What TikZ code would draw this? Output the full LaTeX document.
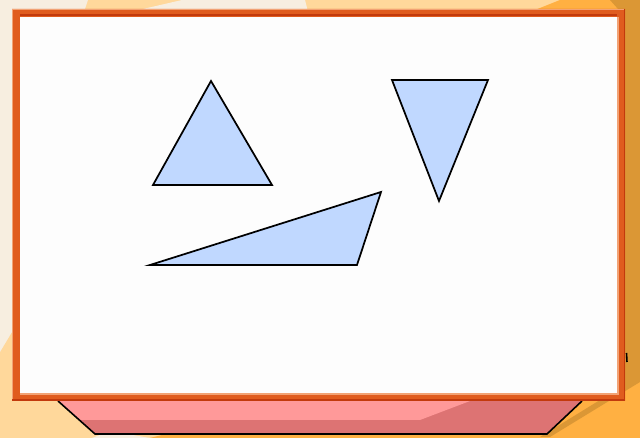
\documentclass[tikz,border=0pt]{standalone}
\definecolor{beige}{HTML}{F7EEE0}
\definecolor{lorange}{HTML}{FFD89B}
\definecolor{morange}{HTML}{FFB042}
\definecolor{dorange}{HTML}{DB9735}
\definecolor{frameC}{HTML}{E05C1E}
\definecolor{frameD}{HTML}{C23A0C}
\definecolor{frameL}{HTML}{F2A274}
\definecolor{pinkL}{HTML}{FF9999}
\definecolor{pinkD}{HTML}{DD7373}
\definecolor{triC}{HTML}{C0D8FF}
\definecolor{paper}{HTML}{FDFDFD}
\tikzset{
  tri/.style={draw=black, fill=triC, line width=1.3pt, line join=miter},
  edge/.style={draw=black, line width=1.2pt},
}
\begin{document}
\begin{tikzpicture}[x=0.75pt,y=-0.75pt]
\useasboundingbox (0,0) rectangle (640,438);
% background
\fill[lorange] (0,0) rectangle (640,438);
\fill[beige] (0,0) -- (88,0) -- (84,12) -- (12,332) -- (0,352) -- cycle;
\fill[beige] (182,0) -- (305,0) -- (308,12) -- (130,12) -- cycle;
\fill[beige] (92,438) -- (150,438) -- (110,431) -- cycle;
\fill[morange] (560,0) -- (612,0) -- (625,12) -- (530,12) -- cycle;
\fill[morange] (640,382) -- (640,438) -- (150,438) -- (300,400) -- cycle;
\fill[dorange] (610,0) -- (640,0) -- (640,382) -- (550,437) -- (540,437) -- (600,400) -- (618,9) -- cycle;
\draw[black, line width=1.2pt] (626.5,353) -- (627,362);
% pink tray
\fill[pinkD] (58,401) -- (582,401) -- (547,434) -- (95,434) -- cycle;
\fill[pinkL] (58,401) -- (470,401) -- (420,420) -- (79,420) -- cycle;
\draw[edge] (58,401) -- (95,434) -- (547,434) -- (582,401);
% frame
\fill[frameC, even odd rule] (12,9) rectangle (625,401) (20,17) rectangle (617,393);
\draw[frameL, line width=1pt] (12.5,401) -- (12.5,9.5) -- (625,9.5);
\draw[frameD, line width=1.5pt] (20,15.5) -- (617,15.5);
\draw[frameD, line width=1pt] (12,400) -- (625,400);
\draw[frameD, line width=1pt] (624.5,9) -- (624.5,401);
\draw[frameL, line width=1.2pt] (20,393.8) -- (617.8,393.8) -- (617.8,17);
\fill[paper] (20,17) rectangle (617,393);
% triangles
\draw[tri] (211,81) -- (272,185) -- (153,185) -- cycle;
\draw[tri] (392,80) -- (488,80) -- (439,201) -- cycle;
\draw[tri] (150,265) -- (357,265) -- (381,192) -- cycle;
\end{tikzpicture}
\end{document}
